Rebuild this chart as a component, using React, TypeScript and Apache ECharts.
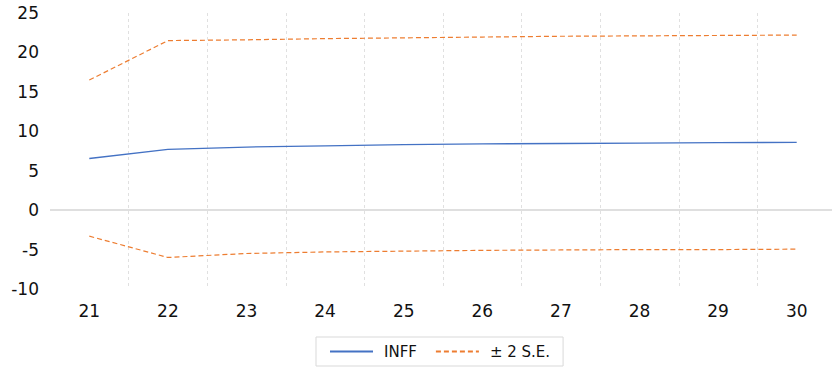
import React, { useEffect, useRef } from "react";
import * as echarts from "echarts";

// Forecast horizons
const periods = ["21", "22", "23", "24", "25", "26", "27", "28", "29", "30"];

// Response of INFF
const inff = [6.55, 7.7, 8.0, 8.15, 8.3, 8.4, 8.45, 8.5, 8.55, 8.6];

// ± 2 standard-error bands
const upperBand = [16.5, 21.5, 21.6, 21.75, 21.85, 21.95, 22.05, 22.1, 22.15, 22.2];
const lowerBand = [-3.3, -6.0, -5.5, -5.3, -5.2, -5.1, -5.05, -5.0, -5.0, -4.95];

const seriesNames = ["INFF", "± 2 S.E."];

const FONT = "'DejaVu Sans', 'Noto Sans', sans-serif";

export default function App() {
  const ref = useRef<HTMLDivElement>(null);

  useEffect(() => {
    if (!ref.current) return;
    const chart = echarts.init(ref.current, undefined, { renderer: "svg" });
    chart.setOption({
      animation: false,
      backgroundColor: "#ffffff",
      grid: { left: 50, right: 4, top: 13, bottom: 79 },
      legend: {
        data: seriesNames,
        left: 316,
        top: 337,
        padding: [7, 13, 7, 13],
        itemWidth: 43,
        itemHeight: 14,
        itemGap: 18,
        itemStyle: { opacity: 0 },
        borderColor: "#d9d9d9",
        borderWidth: 1,
        textStyle: {
          fontFamily: FONT,
          fontSize: 15,
          color: "#111",
          padding: [0, 0, 0, 6],
        },
      },
      xAxis: {
        type: "category",
        data: periods,
        boundaryGap: true,
        axisLine: { show: false },
        axisTick: { show: false },
        axisLabel: {
          margin: 13,
          fontFamily: FONT,
          fontSize: 17,
          color: "#111",
        },
        splitLine: {
          show: true,
          showMinLine: false,
          showMaxLine: false,
          lineStyle: { color: "#e0e0e0", type: [3, 3], width: 1 },
        },
      },
      yAxis: {
        type: "value",
        min: -10,
        max: 25,
        interval: 5,
        axisLine: { show: false },
        axisTick: { show: false },
        splitLine: { show: false },
        axisLabel: {
          margin: 11,
          fontFamily: FONT,
          fontSize: 17,
          color: "#111",
        },
      },
      series: [
        {
          name: seriesNames[0],
          type: "line",
          data: inff,
          symbol: "none",
          lineStyle: { color: "#4472c4", width: 1.3 },
          itemStyle: { color: "#4472c4" },
          z: 3,
          markLine: {
            silent: true,
            symbol: "none",
            label: { show: false },
            lineStyle: { color: "#d4d4d4", type: "solid", width: 1.5 },
            data: [{ yAxis: 0 }],
          },
        },
        {
          name: seriesNames[1],
          type: "line",
          data: upperBand,
          symbol: "none",
          lineStyle: { color: "#ed7d31", width: 1.2, type: [5, 3] },
          itemStyle: { color: "#ed7d31" },
        },
        {
          name: seriesNames[1],
          type: "line",
          data: lowerBand,
          symbol: "none",
          lineStyle: { color: "#ed7d31", width: 1.2, type: [5, 3] },
          itemStyle: { color: "#ed7d31" },
        },
      ],
    });
    return () => chart.dispose();
  }, []);

  return (
    <div
      style={{
        position: "fixed",
        left: 0,
        top: 0,
        width: 832,
        height: 368,
        overflow: "hidden",
        background: "#fff",
      }}
    >
      <div ref={ref} style={{ width: 840, height: 368 }} />
    </div>
  );
}
